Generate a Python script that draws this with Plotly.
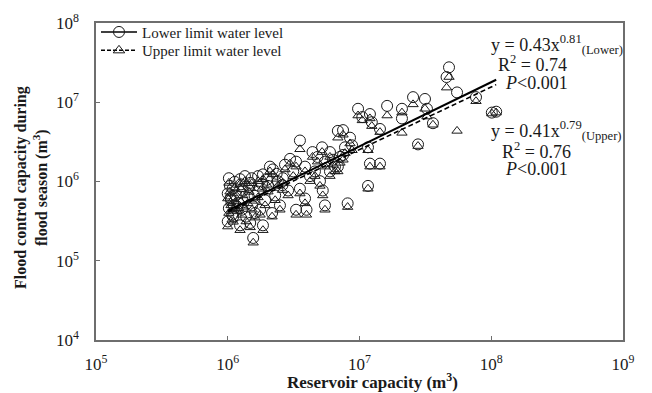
import numpy as np
import plotly.graph_objects as go

# Reservoir capacity and flood-season flood control capacity, in million m3
capacity = [
    1.02, 1.04, 1.00, 1.06, 1.02, 1.08, 1.00, 1.13, 1.15, 1.11,
    1.24, 1.48, 1.85, 1.56, 1.24, 1.35, 1.48, 1.30, 1.42, 1.28,
    1.61, 1.70, 1.82, 1.85, 2.09, 2.20, 2.02, 1.92, 2.29, 2.40,
    2.62, 2.72, 2.97, 3.30, 3.53, 2.87, 2.49, 2.17, 1.53, 1.70,
    1.21, 1.38, 1.76, 1.09, 1.05, 1.18, 1.32, 1.45, 1.60, 1.10,
    1.26, 1.52, 2.35, 1.98, 2.60,
    3.30, 3.96, 3.86, 3.53, 5.26, 5.47, 4.21, 4.59, 5.01, 5.97,
    6.51, 7.11, 7.50, 6.85, 8.47, 8.78, 7.76, 6.85, 7.50, 4.40,
    4.80, 3.86, 5.47, 5.97, 6.30, 5.20, 8.13, 3.14,
    9.75, 10.5, 12.0, 12.4, 14.3, 11.6, 12.0, 14.3, 11.6, 16.2,
    21.0, 21.0, 25.5, 31.4, 32.5, 36.1, 27.8, 47.8, 45.8, 55.0,
    76.6, 101.0, 109.0,
]
lower_level = [
    1.10, 0.88, 0.705, 0.58, 0.46, 0.38, 0.313, 0.99, 0.667, 0.50,
    0.28, 0.30, 0.28, 0.194, 1.07, 1.17, 0.96, 0.77, 0.63, 0.44,
    0.40, 0.745, 0.93, 1.23, 1.54, 1.42, 0.88, 0.58, 0.667, 1.01,
    1.10, 1.63, 1.93, 1.78, 3.29, 0.77, 0.50, 0.40, 0.50, 1.17,
    0.53, 0.36, 0.44, 0.81, 0.62, 0.48, 0.55, 0.85, 0.66, 0.36,
    0.92, 1.10, 1.25, 1.05, 0.90,
    0.44, 0.44, 0.61, 0.81, 0.77, 0.50, 1.17, 1.34, 1.01, 1.34,
    1.54, 2.04, 2.16, 1.54, 3.57, 2.86, 2.70, 4.35, 4.45, 2.35,
    2.04, 1.54, 1.78, 2.35, 1.88, 2.70, 0.53, 1.34,
    8.27, 6.50, 7.10, 5.60, 4.60, 2.70, 1.68, 1.68, 0.88, 9.00,
    8.27, 6.25, 11.6, 11.0, 8.27, 5.44, 2.94, 27.6, 20.8, 13.3,
    11.6, 7.40, 7.60,
]
upper_level = [
    0.96, 0.745, 0.61, 0.50, 0.40, 0.33, 0.27, 0.83, 0.56, 0.44,
    0.243, 0.264, 0.243, 0.169, 0.93, 1.01, 0.83, 0.667, 0.53, 0.38,
    0.35, 0.63, 0.81, 1.07, 1.34, 1.23, 0.745, 0.50, 0.58, 0.88,
    0.96, 1.42, 1.68, 1.54, 2.55, 0.667, 0.44, 0.36, 0.44, 1.01,
    0.46, 0.313, 0.38, 0.705, 0.54, 0.42, 0.48, 0.74, 0.57, 0.31,
    0.80, 0.95, 1.08, 0.91, 0.78,
    0.38, 0.38, 0.53, 0.705, 0.667, 0.44, 1.01, 1.17, 0.88, 1.17,
    1.34, 1.72, 1.88, 1.34, 3.02, 2.48, 2.28, 3.57, 3.89, 2.04,
    1.78, 1.34, 1.54, 2.04, 1.63, 2.35, 0.476, 1.17,
    6.80, 5.91, 6.25, 5.00, 4.20, 2.48, 1.54, 1.54, 0.81, 6.80,
    7.40, 4.11, 9.40, 8.27, 6.60, 5.20, 2.80, 20.8, 15.3, 4.35,
    10.3, 7.20, 7.40,
]

# Power-law fits y = a * x^b (x, y in million m3)
fit_lower = {"a": 0.43, "b": 0.81, "r2": 0.74}
fit_upper = {"a": 0.41, "b": 0.79, "r2": 0.76}

x_tick_labels = ["10<sup>5</sup>", "10<sup>6</sup>", "10<sup>7</sup>", "10<sup>8</sup>", "10<sup>9</sup>"]
y_tick_labels = ["10<sup>4</sup>", "10<sup>5</sup>", "10<sup>6</sup>", "10<sup>7</sup>", "10<sup>8</sup>"]

M = 1e6
cap = np.array(capacity) * M
low = np.array(lower_level) * M
up = np.array(upper_level) * M

xf = np.logspace(np.log10(min(capacity)), np.log10(max(capacity)), 50)
y_fit_low = fit_lower["a"] * xf ** fit_lower["b"] * M
y_fit_up = fit_upper["a"] * xf ** fit_upper["b"] * M

SERIF = "Liberation Serif, Times New Roman, serif"
INK = "#1a1a1a"

fig = go.Figure()

fig.add_trace(go.Scatter(
    x=cap, y=low, mode="markers", showlegend=False,
    marker=dict(symbol="circle-open", size=11, color=INK, line=dict(width=1, color=INK)),
))
fig.add_trace(go.Scatter(
    x=cap, y=up, mode="markers", showlegend=False,
    marker=dict(symbol="triangle-up-open", size=9, color=INK, line=dict(width=1, color=INK)),
))
fig.add_trace(go.Scatter(
    x=xf * M, y=y_fit_low, mode="lines", showlegend=False,
    line=dict(color="black", width=2),
))
fig.add_trace(go.Scatter(
    x=xf * M, y=y_fit_up, mode="lines", showlegend=False,
    line=dict(color="black", width=1.6, dash="5px,3px"),
))

# legend entries, one legend box per row
fig.add_trace(go.Scatter(
    x=[None], y=[None], mode="lines+markers", name="Lower limit water level", legend="legend",
    line=dict(color="black", width=1.5),
    marker=dict(symbol="circle-open", size=11, color=INK, line=dict(width=1, color=INK)),
))
fig.add_trace(go.Scatter(
    x=[None], y=[None], mode="lines+markers", name="Upper limit water level", legend="legend2",
    line=dict(color="black", width=1.5, dash="4px,2px"),
    marker=dict(symbol="triangle-up-open", size=10, color=INK, line=dict(width=1, color=INK)),
))

axis_common = dict(
    type="log", showgrid=False, zeroline=False,
    showline=True, linecolor="#6e6e6e", linewidth=1.5, mirror=True,
    ticks="inside", ticklen=4, tickwidth=1, tickcolor="#6e6e6e",
    tickfont=dict(family=SERIF, size=17, color=INK),
)

fig.update_xaxes(
    **axis_common, range=[5, 9],
    tickvals=[1e5, 1e6, 1e7, 1e8, 1e9], ticktext=x_tick_labels,
    ticklabelstandoff=8,
)
fig.update_yaxes(
    **axis_common, range=[4, 8],
    tickvals=[1e4, 1e5, 1e6, 1e7, 1e8], ticktext=y_tick_labels,
    ticklabelstandoff=12,
)

annotations = [
    dict(text=f"y = {fit_lower['a']}x<sup>{fit_lower['b']}</sup><sub>(Lower)</sub>", x=0.875, y=0.933),
    dict(text=f"R<sup>2</sup> = {fit_lower['r2']}", x=0.829, y=0.872),
    dict(text="<i>P</i>&lt;0.001", x=0.835, y=0.812),
    dict(text=f"y = {fit_upper['a']}x<sup>{fit_upper['b']}</sup><sub>(Upper)</sub>", x=0.873, y=0.660),
    dict(text=f"R<sup>2</sup> = {fit_upper['r2']}", x=0.835, y=0.599),
    dict(text="<i>P</i>&lt;0.001", x=0.835, y=0.538),
]
for a in annotations:
    fig.add_annotation(
        xref="paper", yref="paper", showarrow=False, xanchor="center", yanchor="middle",
        font=dict(family=SERIF, size=18, color=INK), **a,
    )

# axis titles
fig.add_annotation(
    text="<b>Reservoir capacity (m<sup>3</sup>)</b>", xref="paper", yref="paper",
    x=0.524, y=-0.128, showarrow=False, xanchor="center", yanchor="middle",
    font=dict(family=SERIF, size=17, color=INK),
)
fig.add_annotation(
    text="<b>Flood control capacity during<br>flood season (m<sup>3</sup>)</b>", xref="paper", yref="paper",
    x=-0.121, y=0.48, showarrow=False, xanchor="center", yanchor="middle", textangle=-90,
    font=dict(family=SERIF, size=16, color=INK),
)

legend_style = dict(
    xanchor="left", yanchor="middle",
    font=dict(family=SERIF, size=15, color=INK),
    bgcolor="rgba(0,0,0,0)", itemwidth=36,
)

fig.update_layout(
    width=652, height=393,
    margin=dict(l=96, r=29, t=11, b=53),
    paper_bgcolor="white", plot_bgcolor="white",
    legend=dict(x=0.0, y=0.971, **legend_style),
    legend2=dict(x=0.0, y=0.913, **legend_style),
)

fig.write_html("out.html")
